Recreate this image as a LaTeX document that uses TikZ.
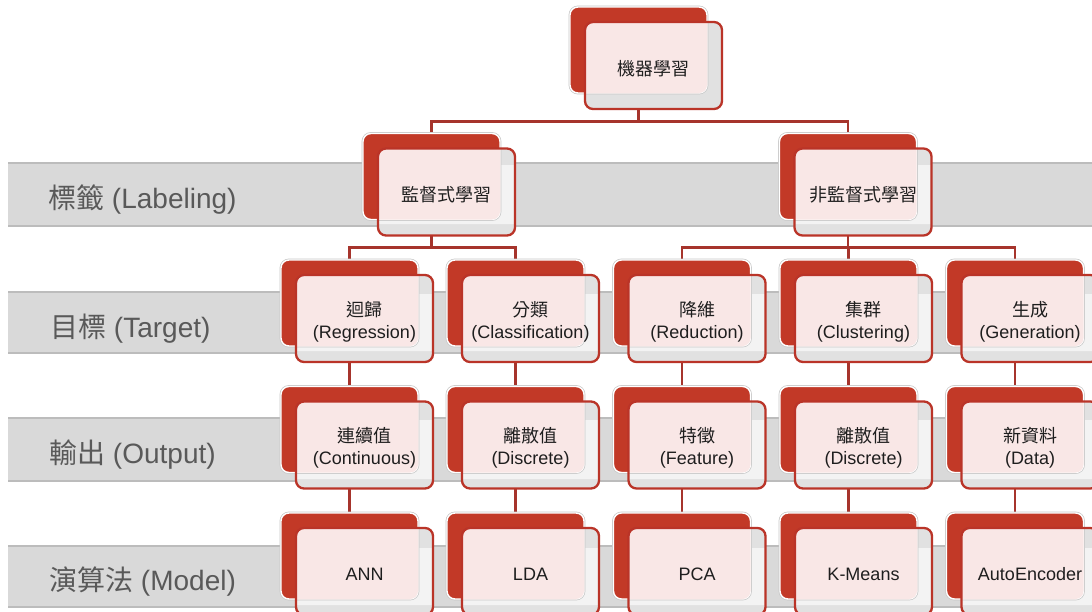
\documentclass[tikz,border=0pt]{standalone}
\usepackage{fontspec}
\setmainfont{Liberation Sans}
\newfontfamily\cjk{Noto Sans CJK TC}
\definecolor{backred}{RGB}{194,57,39}
\definecolor{edgered}{RGB}{186,52,40}
\definecolor{connred}{RGB}{166,52,44}
\definecolor{pinkfill}{RGB}{249,231,230}
\definecolor{frontgray}{RGB}{225,225,225}
\definecolor{bandfill}{RGB}{217,217,217}
\definecolor{bandedge}{RGB}{188,188,188}
\definecolor{labelgray}{RGB}{89,89,89}
\definecolor{inkdark}{RGB}{30,30,30}
\definecolor{bandwhite}{RGB}{243,243,243}
\pgfdeclarelayer{bands}
\pgfdeclarelayer{conns}
\pgfsetlayers{bands,conns,main}
\tikzset{
  conn/.style={draw=connred, line width=2.6pt},
  bandlabel/.style={anchor=west, inner sep=0pt, text=labelgray, font=\fontsize{28}{32}\selectfont},
  boxtext/.style={inner sep=0pt, align=center, text=inkdark, font=\fontsize{18}{22}\selectfont},
  backshape/.style={fill=backred, draw=white, line width=1.4pt, rounded corners=8pt},
  backhalo/.style={draw=black!22, line width=2.8pt, rounded corners=8pt},
  frontedge/.style={draw=edgered, line width=2.3pt, rounded corners=8pt},
}
% name, x (back left), y (back top), text
\newcommand\mlbox[4]{%
  \coordinate (#1-top) at (#2+68.5,#3);
  \coordinate (#1-bot) at (#2+68.5,#3+86);
  \fill[frontgray, rounded corners=8pt] (#2+15,#3+15) rectangle (#2+152,#3+102);
  \begin{scope}
    \clip[rounded corners=8pt] (#2+15,#3+15) rectangle (#2+152,#3+102);
    \fill[bandwhite] (0,165) rectangle (1100,224) (0,294) rectangle (1100,351)
      (0,420) rectangle (1100,479) (0,548) rectangle (1100,605);
  \end{scope}
  \draw[backhalo] (#2,#3) rectangle (#2+137,#3+86);
  \draw[backshape] (#2,#3) rectangle (#2+137,#3+86);
  \begin{scope}
    \clip[rounded corners=8pt] (#2,#3) rectangle (#2+137,#3+86);
    \fill[pinkfill, rounded corners=8pt] (#2+15,#3+15) rectangle (#2+152,#3+102);
  \end{scope}
  \draw[frontedge] (#2+15,#3+15) rectangle (#2+152,#3+102);
  \node[boxtext] (#1) at (#2+83.5,#3+61.5) {#4};
}
\begin{document}
\begin{tikzpicture}[x=1pt,y=-1pt]
\useasboundingbox (0,0) rectangle (1092,611);
% bands
\begin{pgfonlayer}{bands}
\fill[white] (0,0) rectangle (1092,611);
\foreach \t/\b in {163/226, 292/353, 418/481, 546/607}{
  \fill[bandfill] (8,\t) rectangle (1100,\b);
  \draw[bandedge, line width=1.3pt] (8,\t) -- (1100,\t);
  \draw[bandedge, line width=1.3pt] (8,\b) -- (1100,\b);
}
\end{pgfonlayer}
\node[bandlabel] (lab1) at (48,200) {{\cjk 標籤} (Labeling)};
\node[bandlabel] (lab2) at (50,329) {{\cjk 目標} (Target)};
\node[bandlabel] (lab3) at (49,455) {{\cjk 輸出} (Output)};
\node[bandlabel] (lab4) at (49,582) {{\cjk 演算法} (Model)};
% boxes
\mlbox{root}{570}{7}{{\cjk 機器學習}}
\mlbox{sup}{363}{133.5}{{\cjk 監督式學習}}
\mlbox{unsup}{779.5}{133.5}{{\cjk 非監督式學習}}
\mlbox{reg}{281}{260}{{\cjk 迴歸}\\(Regression)}
\mlbox{cls}{447}{260}{{\cjk 分類}\\(Classification)}
\mlbox{rdc}{613.5}{260}{{\cjk 降維}\\(Reduction)}
\mlbox{clu}{780}{260}{{\cjk 集群}\\(Clustering)}
\mlbox{gen}{946.5}{260}{{\cjk 生成}\\(Generation)}
\mlbox{cont}{281}{386.5}{{\cjk 連續值}\\(Continuous)}
\mlbox{disc}{447}{386.5}{{\cjk 離散值}\\(Discrete)}
\mlbox{feat}{613.5}{386.5}{{\cjk 特徵}\\(Feature)}
\mlbox{disc2}{780}{386.5}{{\cjk 離散值}\\(Discrete)}
\mlbox{data}{946.5}{386.5}{{\cjk 新資料}\\(Data)}
\mlbox{ann}{281}{513}{ANN}
\mlbox{lda}{447}{513}{LDA}
\mlbox{pca}{613.5}{513}{PCA}
\mlbox{km}{780}{513}{K-Means}
\mlbox{ae}{946.5}{513}{AutoEncoder}
% connectors
\coordinate (bus1) at (0,121.5);
\coordinate (bus2) at (0,247.5);
\begin{pgfonlayer}{conns}
\draw[conn] (root-bot) -- (root-bot |- bus1);
\draw[conn] (sup-top) |- (unsup-top |- bus1) -- (unsup-top);
\draw[conn] (sup-bot) -- (sup-bot |- bus2);
\draw[conn] (reg-top) |- (cls-top |- bus2) -- (cls-top);
\draw[conn] (unsup-bot) -- (unsup-bot |- bus2);
\draw[conn] (rdc-top) |- (gen-top |- bus2) -- (gen-top);
\draw[conn] (clu-top) -- (clu-top |- bus2);
\draw[conn] (reg-bot) -- (cont-top);
\draw[conn] (cls-bot) -- (disc-top);
\draw[conn] (rdc-bot) -- (feat-top);
\draw[conn] (clu-bot) -- (disc2-top);
\draw[conn] (gen-bot) -- (data-top);
\draw[conn] (cont-bot) -- (ann-top);
\draw[conn] (disc-bot) -- (lda-top);
\draw[conn] (feat-bot) -- (pca-top);
\draw[conn] (disc2-bot) -- (km-top);
\draw[conn] (data-bot) -- (ae-top);
\end{pgfonlayer}
\end{tikzpicture}
\end{document}
